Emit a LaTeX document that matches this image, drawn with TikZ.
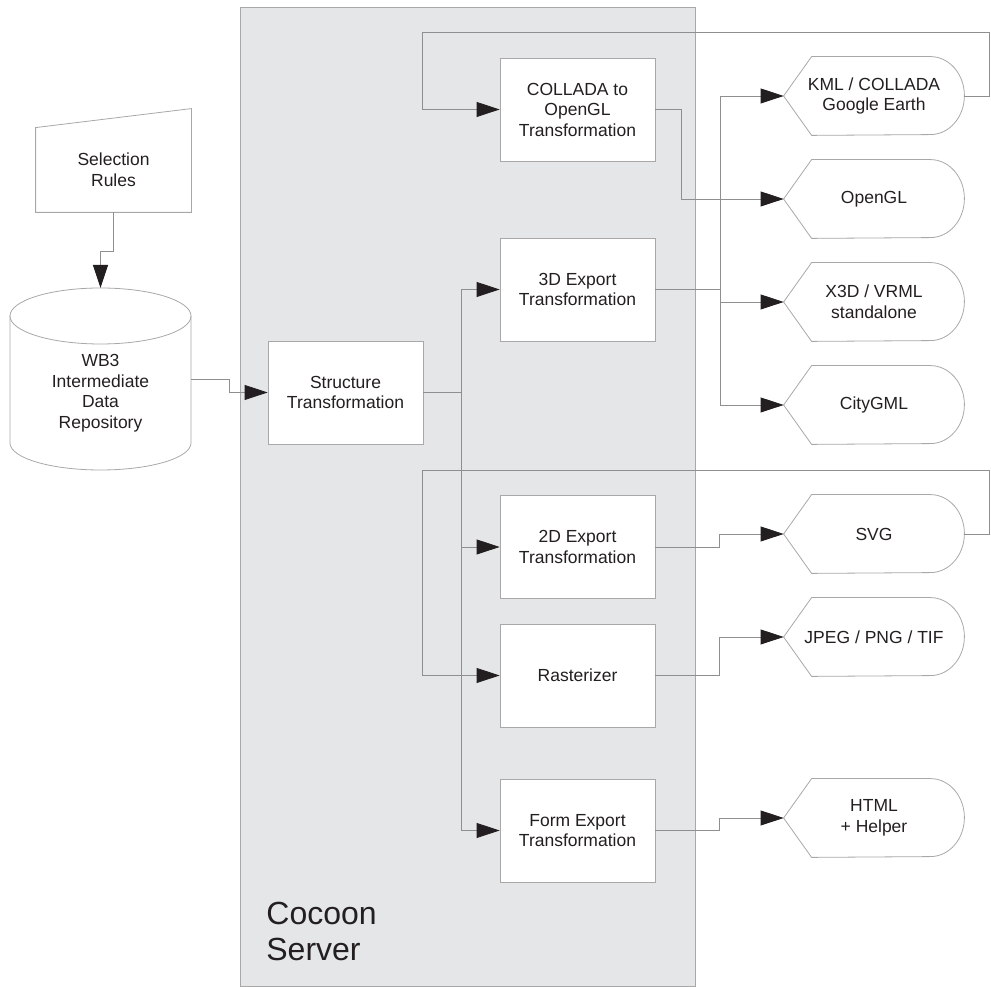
\documentclass[tikz,border=0pt]{standalone}
\usepackage{fontspec}
\setmainfont{Liberation Sans}
\usetikzlibrary{arrows.meta}
\definecolor{panel}{HTML}{E5E6E8}
\definecolor{edge}{HTML}{A8A8A8}
\definecolor{ink}{HTML}{231F20}
\newcommand{\lblfont}{\fontsize{17.5}{20.5}\selectfont}
\begin{document}
\begin{tikzpicture}[x=1pt, y=1pt, line width=0.8pt,
  proc/.style={draw=edge, fill=white, minimum width=155, minimum height=103, inner sep=0, align=center, font=\lblfont, text=ink},
  disp/.style={minimum width=180, minimum height=78, inner sep=0, align=center, font=\lblfont, text=ink},
  shp/.style={draw=edge},
  wire/.style={draw=edge!85!black},
  arr/.style={wire, -{Triangle[length=23pt, width=15pt, color=ink, fill=ink]}}]
  \useasboundingbox (0,0) rectangle (991,987);
  % server panel
  \draw [fill=panel, draw=edge] (240,1) rectangle (695,980);
  \node [anchor=north west, inner sep=0, align=left, text=ink, font=\fontsize{32}{36}\selectfont] (CS) at (266,85) {Cocoon\\Server};
  % inputs
  \node [align=center, font=\lblfont, text=ink, minimum width=155, minimum height=84, inner sep=0] (SR) at (113.5,817) {Selection\\Rules};
  \draw [shp] (SR.south west) -- (SR.south east) -- ([yshift=19]SR.north east) -- (SR.north west) -- cycle;
  \node [align=center, font=\lblfont, text=ink, minimum width=181, inner sep=0] (WB) at (100.5,594) {WB3\\Intermediate\\Data\\Repository};
  \draw [shp] (10,671) -- (10,544) arc [start angle=180, end angle=360, x radius=90.5, y radius=27] -- (191,671);
  \draw [shp] (100.5,671) ellipse [x radius=90.5, y radius=28];
  \coordinate (WBtop) at (100.5,699);
  % transformations
  \node [proc] (ST) at (345.5,594.5) {Structure\\Transformation};
  \node [proc] (CT) at (577.5,877.5) {COLLADA to\\OpenGL\\Transformation};
  \node [proc] (TD) at (577.5,697.5) {3D Export\\Transformation};
  \node [proc] (TT) at (577.5,440) {2D Export\\Transformation};
  \node [proc] (RA) at (577.5,311.5) {Rasterizer};
  \node [proc] (FE) at (577.5,156.5) {Form Export\\Transformation};
  % outputs
  \node [disp] (KML) at (874,891) {KML / COLLADA\\Google Earth};
  \node [disp] (OGL) at (874,788) {OpenGL};
  \node [disp] (X3D) at (874,685) {X3D / VRML\\standalone};
  \node [disp] (CGM) at (874,582) {CityGML};
  \node [disp] (SVG) at (874,453) {SVG};
  \node [disp] (IMG) at (874,350) {JPEG / PNG / TIF};
  \node [disp] (HTM) at (874,169) {HTML\\+ Helper};
  \foreach \n in {KML,OGL,X3D,CGM,SVG,IMG,HTM}
    \draw [shp] (\n.west) -- ([xshift=28]\n.north west) -- ([xshift=-34]\n.north east)
      arc [start angle=90, end angle=-90, x radius=34, y radius=39] -- ([xshift=28]\n.south west) -- cycle;
  % flow
  \draw [arr] (SR.south) -- ++(0,-39) -| (WBtop);
  \draw [arr] ([yshift=14]WB.east) -- ++(38,0) |- (ST.west);
  \draw [wire] (ST.east) -- ++(38,0) coordinate (J);
  \foreach \n in {TD,TT,FE}
    \draw [arr] (J) |- (\n.west);
  \draw [wire] (TD.east) -- ++(64.5,0) coordinate (B);
  \foreach \n in {KML,X3D,CGM}
    \draw [arr] (B) |- (\n.west);
  \draw [arr] (CT.east) -- ++(26,0) |- (OGL.west);
  \draw [arr] (TT.east) -- ++(64,0) |- (SVG.west);
  \draw [arr] (RA.east) -- ++(64,0) |- (IMG.west);
  \draw [arr] (FE.east) -- ++(64,0) |- (HTM.west);
  % feedback loops
  \draw [arr] (KML.east) -- ++(25,0) -- ++(0,64) -| ([xshift=-77]CT.west) -- (CT.west);
  \draw [arr] (SVG.east) -- ++(25,0) -- ++(0,64) -| ([xshift=-77]RA.west) -- (RA.west);
\end{tikzpicture}
\end{document}
